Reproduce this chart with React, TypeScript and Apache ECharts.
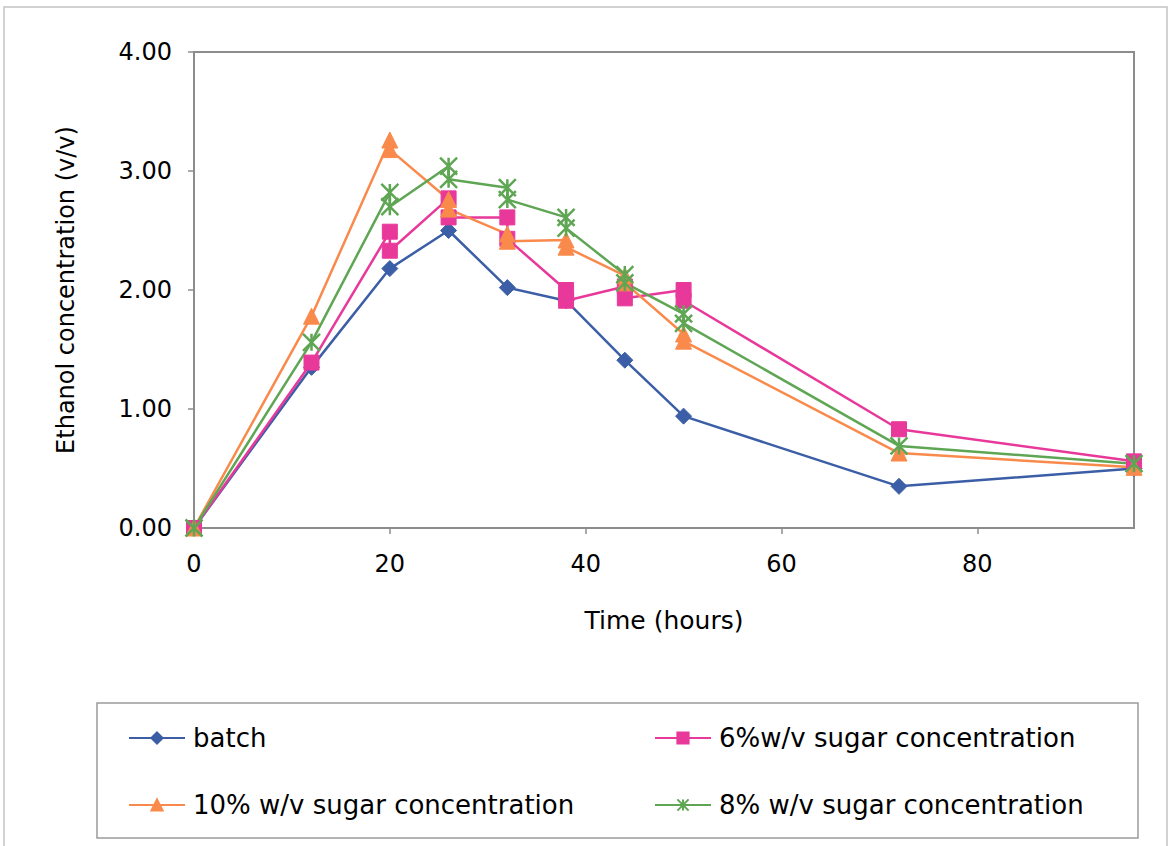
import React, { useEffect, useRef } from "react";
import * as echarts from "echarts";

// Sampling times (hours). Fed-batch runs were sampled twice at each feed
// time: just before and just after the sugar feed.
const batchTime = [0, 12, 20, 26, 32, 38, 44, 50, 72, 96];
const fedTime = [0, 12, 20, 20, 26, 26, 32, 32, 38, 38, 44, 44, 50, 50, 72, 96];

// Ethanol concentration (v/v)
const batchEthanol = [0, 1.35, 2.18, 2.5, 2.02, 1.91, 1.41, 0.94, 0.35, 0.5];
const sugar6Ethanol = [0, 1.39, 2.49, 2.33, 2.77, 2.61, 2.61, 2.43, 2.0, 1.91, 2.03, 1.93, 2.0, 1.91, 0.83, 0.56];
const sugar10Ethanol = [0, 1.78, 3.26, 3.18, 2.76, 2.68, 2.47, 2.41, 2.42, 2.36, 2.12, 2.06, 1.63, 1.57, 0.63, 0.51];
const sugar8Ethanol = [0, 1.56, 2.82, 2.7, 3.04, 2.93, 2.86, 2.76, 2.61, 2.52, 2.13, 2.06, 1.8, 1.72, 0.69, 0.54];

const seriesNames = [
  "batch",
  "6%w/v sugar concentration",
  "10% w/v sugar concentration",
  "8% w/v sugar concentration",
];

const xTicks = [0, 20, 40, 60, 80];

const FONT = "DejaVu Sans";
const AXIS_GRAY = "#8c8c8c";
const STAR = "path://M0,0L16,16M16,0L0,16M8,0L8,16";

const pairs = (xs: number[], ys: number[]) => xs.map((x, i) => [x, ys[i]]);

export default function App() {
  const ref = useRef<HTMLDivElement>(null);

  useEffect(() => {
    if (!ref.current) return;
    const chart = echarts.init(ref.current, undefined, { renderer: "svg" });

    const lineSeries = (
      name: string,
      data: number[][],
      color: string,
      symbol: string,
      symbolSize: number,
      extraItem: Record<string, unknown> = {}
    ) => ({
      name,
      type: "line",
      data,
      symbol,
      symbolSize,
      showAllSymbol: true,
      lineStyle: { color, width: 2.5 },
      itemStyle: { color, borderColor: color, borderWidth: 1, ...extraItem },
      emphasis: { disabled: true },
    });

    const legendItem = (name: string, left: number, top: number) => ({
      data: [name],
      left,
      top,
      padding: 0,
      itemWidth: 56,
      itemHeight: 14,
      textStyle: { fontFamily: FONT, fontSize: 26, color: "#000", padding: [0, 0, 0, 3] },
      selectedMode: false,
    });

    chart.setOption({
      animation: false,
      backgroundColor: "#fff",
      graphic: [
        {
          type: "rect",
          shape: { x: 4, y: 7, width: 1163, height: 880 },
          style: { fill: "none", stroke: "#c4c4c4", lineWidth: 1.5 },
          silent: true,
        },
        {
          type: "rect",
          shape: { x: 97, y: 703, width: 1041, height: 135 },
          style: { fill: "none", stroke: "#9a9a9a", lineWidth: 1.5 },
          silent: true,
        },
      ],
      grid: {
        left: 194,
        right: 38,
        top: 52,
        bottom: 318,
        show: true,
        borderColor: AXIS_GRAY,
        borderWidth: 2,
        backgroundColor: "#fff",
      },
      legend: [
        legendItem(seriesNames[0], 128, 725),
        legendItem(seriesNames[1], 654, 725),
        legendItem(seriesNames[2], 128, 792),
        legendItem(seriesNames[3], 654, 792),
      ],
      xAxis: {
        type: "value",
        min: 0,
        max: 96,
        interval: 20,
        name: "Time (hours)",
        nameLocation: "middle",
        nameGap: 80,
        nameTextStyle: { fontFamily: FONT, fontSize: 25, color: "#000" },
        axisLine: { show: true, lineStyle: { color: AXIS_GRAY, width: 2 } },
        axisTick: { show: true, length: 6, customValues: xTicks, lineStyle: { color: AXIS_GRAY, width: 1.5 } },
        axisLabel: {
          customValues: xTicks,
          margin: 24,
          fontFamily: FONT,
          fontSize: 24,
          color: "#000",
        },
        splitLine: { show: false },
      },
      yAxis: {
        type: "value",
        min: 0,
        max: 4,
        interval: 1,
        name: "Ethanol concentration (v/v)",
        nameLocation: "middle",
        nameGap: 116,
        nameTextStyle: { fontFamily: FONT, fontSize: 24, color: "#000" },
        axisLine: { show: true, lineStyle: { color: AXIS_GRAY, width: 2 } },
        axisTick: { show: true, length: 6, lineStyle: { color: AXIS_GRAY, width: 1.5 } },
        axisLabel: {
          formatter: (v: number) => v.toFixed(2),
          margin: 22,
          fontFamily: FONT,
          fontSize: 24,
          color: "#000",
        },
        splitLine: { show: false },
      },
      series: [
        lineSeries(seriesNames[0], pairs(batchTime, batchEthanol), "#3b5ea6", "diamond", 16),
        lineSeries(seriesNames[1], pairs(fedTime, sugar6Ethanol), "#e8399b", "rect", 15),
        lineSeries(seriesNames[2], pairs(fedTime, sugar10Ethanol), "#f98a4b", "triangle", 16),
        lineSeries(seriesNames[3], pairs(fedTime, sugar8Ethanol), "#5fa654", STAR, 17, {
          borderWidth: 2.5,
        }),
      ],
    });

    return () => chart.dispose();
  }, []);

  return (
    <div
      ref={ref}
      style={{ position: "fixed", left: 0, top: 0, width: 1172, height: 846 }}
    />
  );
}
